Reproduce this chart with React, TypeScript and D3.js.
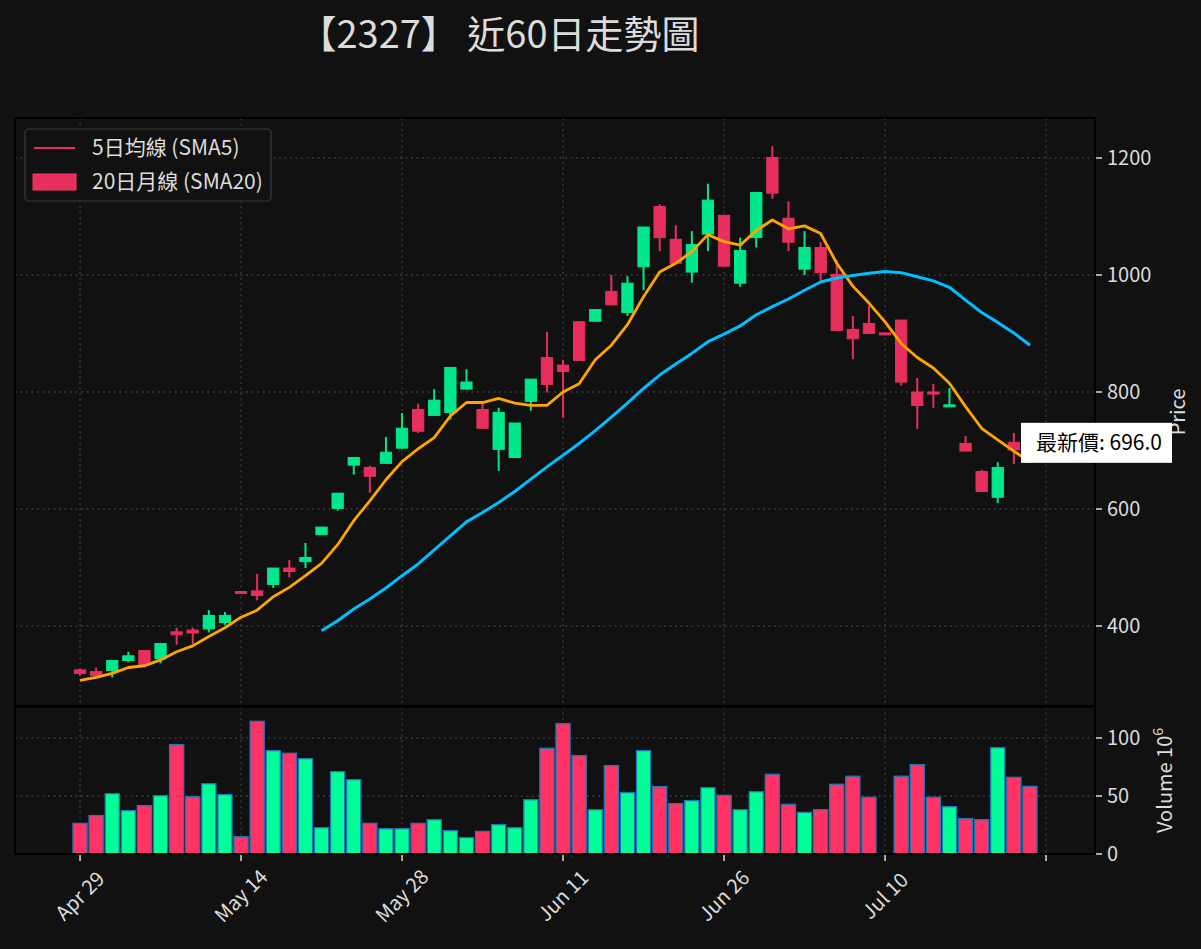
import React from "react";
import * as d3 from "d3";

// 60 trading days
const opens = [319, 315, 341, 349, 334, 370, 385, 388, 418, 418, 458, 452, 499, 493, 517, 569, 627, 688, 656, 697, 738, 733, 786, 842, 817, 738, 765, 747, 822, 813, 835, 854, 941, 949, 986, 1082, 1064, 1020, 1052, 1128, 1015, 1042, 1141, 1140, 1056, 1047, 1004, 905, 891, 900, 901, 817, 777, 798, 778, 699, 630, 671, 701, 688];
const highs = [327, 329, 342, 356, 359, 371, 397, 397, 427, 424, 459, 489, 499, 513, 542, 569, 627, 689, 674, 723, 764, 780, 805, 843, 839, 780, 773, 747, 822, 903, 855, 921, 941, 1000, 998, 1082, 1121, 1085, 1075, 1156, 1102, 1064, 1142, 1220, 1126, 1075, 1056, 1026, 930, 947, 901, 923, 824, 814, 807, 725, 667, 680, 730, 705];
const lows = [315, 313, 312, 338, 333, 336, 368, 369, 389, 402, 458, 444, 465, 483, 499, 556, 597, 659, 628, 678, 703, 730, 760, 753, 804, 737, 665, 688, 768, 799, 756, 854, 921, 949, 930, 974, 1041, 1020, 987, 1041, 1015, 980, 1047, 1130, 1041, 1000, 990, 905, 856, 900, 901, 811, 737, 773, 776, 699, 630, 610, 677, 682];
const closes = [325, 322, 324, 341, 358, 344, 390, 393, 395, 406, 459, 460, 471, 499, 510, 556, 601, 675, 671, 678, 704, 770, 760, 765, 805, 770, 702, 688, 784, 859, 846, 920, 921, 972, 936, 1014, 1117, 1061, 1005, 1070, 1102, 986, 1064, 1201, 1097, 1010, 1047, 1001, 907, 917, 901, 923, 800, 800, 776, 712, 664, 620, 714, 696];
// volume in 10^6
const volumes = [26.4, 33.1, 52.0, 37.4, 41.7, 50.3, 94.3, 49.4, 60.6, 51.2, 14.9, 114.4, 89.1, 86.8, 82.2, 22.7, 71.0, 64.1, 26.4, 21.8, 21.8, 26.4, 29.6, 20.1, 14.1, 19.5, 25.3, 22.7, 46.8, 91.1, 112.4, 84.8, 38.2, 76.2, 52.9, 89.1, 58.1, 43.4, 46.0, 57.2, 50.6, 38.2, 53.7, 68.7, 42.8, 35.9, 38.2, 60.1, 67.0, 48.9, 0, 67.0, 77.0, 48.9, 40.8, 30.5, 29.6, 91.7, 66.1, 58.3];
const sma5 = [307, 312, 319, 329, 332, 342, 356, 366, 382, 397, 415, 427, 450, 466, 486, 507, 539, 580, 614, 650, 681, 703, 722, 759, 782, 782, 789, 781, 777, 777, 800, 814, 855, 880, 915, 963, 1005, 1020, 1040, 1069, 1057, 1051, 1076, 1094, 1079, 1084, 1071, 1020, 981, 952, 920, 883, 859, 841, 815, 775, 738, 718, 699, 680];
const sma20: (number | null)[] = [null, null, null, null, null, null, null, null, null, null, null, null, null, null, null, 392, 409, 429, 446, 465, 486, 506, 530, 554, 578, 594, 611, 630, 651, 672, 692, 712, 734, 757, 781, 806, 829, 848, 866, 886, 899, 913, 932, 946, 959, 974, 988, 995, 999, 1003, 1006, 1004, 997, 990, 979, 957, 936, 919, 901, 880];

const tickIdx = [0, 10, 20, 30, 40, 50, 60];
const tickLabels = ["Apr 29", "May 14", "May 28", "Jun 11", "Jun 26", "Jul 10", ""];
const priceTicks = [400, 600, 800, 1000, 1200];
const volTicks = [0, 50, 100];
const lastPrice = 696.0;

const W = 1201;
const H = 949;
const FONT = "'Noto Sans CJK TC', 'Noto Sans', sans-serif";
const UP = "#ff3366";
const DOWN = "#00ff99";
const TXT = "#dcdcdc";
const GRID = "#3a3a3a";

const L = 15;
const R = 1095;
const pTop = 118;
const pBot = 706;
const vTop = 707;
const vBot = 854;

export default function App() {
  const x = d3.scaleLinear().domain([-4.04, 63.04]).range([L, R]);
  const yP = d3.scaleLinear().domain([263.2, 1268.4]).range([pBot, pTop]);
  const yV = d3.scaleLinear().domain([0, 126.7]).range([vBot, vTop]);

  const step = x(1) - x(0);
  const bodyW = step * 0.7;
  const barW = step * 0.88;

  const line = d3
    .line<number | null>()
    .defined((d) => d != null)
    .x((_, i) => x(i))
    .y((d) => yP(d as number));

  const idx = d3.range(opens.length);
  const boxY = yP(lastPrice) - 30;

  return (
    <svg
      width={W}
      height={H}
      style={{ position: "absolute", left: 0, top: 0, background: "#111111" }}
      fontFamily={FONT}
    >
      <rect x={0} y={0} width={W} height={H} fill="#111111" />

      <text x={499} y={48} fill={TXT} fontSize={38} textAnchor="middle">
        【2327】 近60日走勢圖
      </text>

      {/* grid */}
      <g stroke={GRID} strokeWidth={1.4} strokeDasharray="2,3.5">
        {tickIdx.map((t) => (
          <g key={t}>
            <line x1={x(t)} x2={x(t)} y1={pTop} y2={pBot} />
            <line x1={x(t)} x2={x(t)} y1={vTop} y2={vBot} />
          </g>
        ))}
        {priceTicks.map((p) => (
          <line key={p} x1={L} x2={R} y1={yP(p)} y2={yP(p)} />
        ))}
        {volTicks.slice(1).map((v) => (
          <line key={v} x1={L} x2={R} y1={yV(v)} y2={yV(v)} />
        ))}
      </g>

      {/* candles */}
      {idx.map((i) => {
        const up = closes[i] >= opens[i];
        const c = up ? UP : DOWN;
        const top = yP(Math.max(opens[i], closes[i]));
        const bot = yP(Math.min(opens[i], closes[i]));
        const h = Math.max(bot - top, 2);
        return (
          <g key={i} opacity={0.9}>
            <line x1={x(i)} x2={x(i)} y1={yP(highs[i])} y2={yP(lows[i])} stroke={c} strokeWidth={2} />
            <rect x={x(i) - bodyW / 2} y={top} width={bodyW} height={h} fill={c} stroke={c} strokeWidth={1} />
          </g>
        );
      })}

      <path d={line(sma5) || ""} fill="none" stroke="#ffa500" strokeWidth={2.8} strokeLinejoin="round" />
      <path d={line(sma20) || ""} fill="none" stroke="#00bfff" strokeWidth={3} strokeLinejoin="round" />

      {/* volume */}
      {idx.map((i) =>
        volumes[i] > 0 ? (
          <rect
            key={i}
            x={x(i) - barW / 2}
            y={yV(volumes[i])}
            width={barW}
            height={vBot - yV(volumes[i])}
            fill={closes[i] >= opens[i] ? UP : DOWN}
            stroke="#1f77b4"
            strokeWidth={1.3}
          />
        ) : null
      )}

      {/* spines */}
      <rect x={L} y={pTop} width={R - L} height={pBot - pTop} fill="none" stroke="#000" strokeWidth={2} />
      <rect x={L} y={vTop} width={R - L} height={vBot - vTop} fill="none" stroke="#000" strokeWidth={2} />

      {/* right axes */}
      {priceTicks.map((p) => (
        <g key={p}>
          <line x1={R + 1} x2={R + 7} y1={yP(p)} y2={yP(p)} stroke={TXT} strokeWidth={1.5} />
          <text x={R + 12} y={yP(p)} dy="0.35em" fill={TXT} fontSize={20}>
            {p}
          </text>
        </g>
      ))}
      {volTicks.map((v) => (
        <g key={v}>
          <line x1={R + 1} x2={R + 7} y1={yV(v)} y2={yV(v)} stroke={TXT} strokeWidth={1.5} />
          <text x={R + 12} y={yV(v)} dy="0.35em" fill={TXT} fontSize={20}>
            {v}
          </text>
        </g>
      ))}
      <text transform={`translate(1185,${(pTop + pBot) / 2}) rotate(-90)`} textAnchor="middle" fill={TXT} fontSize={20}>
        Price
      </text>
      <text transform={`translate(1172,${(vTop + vBot) / 2}) rotate(-90)`} textAnchor="middle" fill={TXT} fontSize={20}>
        Volume 10
        <tspan fontSize={14} dy={-9}>
          6
        </tspan>
      </text>

      {/* x axis */}
      {tickIdx.map((t, k) => (
        <g key={t}>
          <line x1={x(t)} x2={x(t)} y1={vBot + 1} y2={vBot + 7} stroke={TXT} strokeWidth={1.5} />
          <text
            transform={`translate(${x(t)},896) rotate(-45)`}
            textAnchor="middle"
            dy="0.35em"
            fill={TXT}
            fontSize={20}
          >
            {tickLabels[k]}
          </text>
        </g>
      ))}

      {/* legend */}
      <rect x={25} y={129} width={246} height={72} rx={4} fill="#111111" stroke="#3a3a3a" strokeWidth={1.2} />
      <line x1={34} x2={75} y1={148} y2={148} stroke={UP} strokeOpacity={0.9} strokeWidth={2} />
      <rect x={33} y={174} width={43} height={16} fill={UP} fillOpacity={0.9} stroke={UP} />
      <text x={92} y={148} dy="0.35em" fill={TXT} fontSize={21}>
        5日均線 (SMA5)
      </text>
      <text x={92} y={182} dy="0.35em" fill={TXT} fontSize={21}>
        20日月線 (SMA20)
      </text>

      {/* latest price */}
      <rect x={1021} y={boxY} width={151} height={40} fill="#ffffff" />
      <text x={1036} y={boxY + 20} dy="0.35em" fill="#000" fontSize={21}>
        最新價: {lastPrice.toFixed(1)}
      </text>
    </svg>
  );
}
